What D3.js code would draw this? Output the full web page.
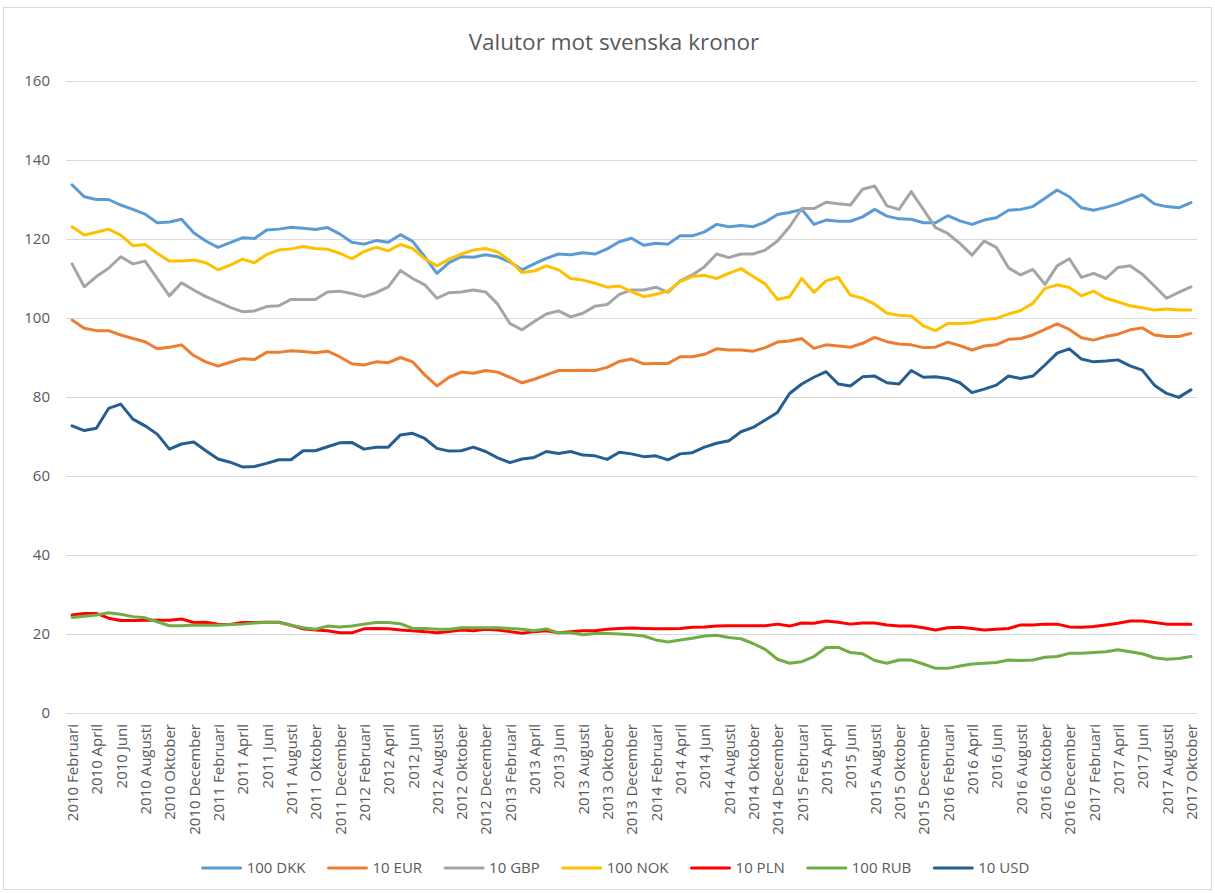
<!DOCTYPE html>
<html>
<head>
<meta charset="utf-8">
<script src="https://cdn.jsdelivr.net/npm/d3@7"></script>
<style>
  html, body { margin: 0; padding: 0; background: #fff; }
  svg { display: block; font-family: "Open Sans", sans-serif; }
</style>
</head>
<body>
<svg id="chart" width="1215" height="893"></svg>
<script>
const title = "Valutor mot svenska kronor";
const monthNames = ["Januari","Februari","Mars","April","Maj","Juni","Juli","Augusti","September","Oktober","November","December"];
const startYear = 2010, startMonth = 1;   // Februari 2010 (0-based month index)
const monthCount = 93;                     // to Oktober 2017
const yTicks = [0, 20, 40, 60, 80, 100, 120, 140, 160];

const seriesNames = ["100 DKK", "10 EUR", "10 GBP", "100 NOK", "10 PLN", "100 RUB", "10 USD"];
const seriesColors = ["#5B9BD5", "#ED7D31", "#A5A5A5", "#FFC000", "#FF0000", "#70AD47", "#255E91"];

const dkk = [133.7,130.7,130.0,130.0,128.6,127.5,126.3,124.1,124.3,125.0,121.6,119.5,117.9,119.1,120.3,120.1,122.3,122.5,123.0,122.7,122.4,122.9,121.3,119.2,
  118.7,119.6,119.2,121.1,119.4,115.5,111.3,114.0,115.5,115.4,116.0,115.5,114.2,112.2,113.7,115.1,116.2,116.0,116.5,116.2,117.5,119.3,
  120.2,118.4,118.9,118.7,120.8,120.8,121.8,123.7,123.1,123.4,123.1,124.3,126.2,126.7,127.5,123.7,124.8,124.5,124.5,125.6,127.5,125.8,
  125.1,125.0,124.1,124.1,125.9,124.6,123.7,124.8,125.4,127.3,127.5,128.2,130.3,132.4,130.7,127.9,127.3,128.0,128.9,130.1,131.2,128.9,128.2,127.9,129.2];
const eur = [99.5,97.4,96.8,96.8,95.7,94.8,94.0,92.2,92.6,93.2,90.5,88.9,87.8,88.8,89.7,89.5,91.3,91.3,91.7,91.5,91.2,91.6,90.2,88.4,
  88.1,88.9,88.7,90.0,88.9,85.6,82.8,85.0,86.3,86.0,86.7,86.3,85.0,83.6,84.5,85.6,86.7,86.7,86.8,86.7,87.5,89.0,
  89.6,88.4,88.5,88.5,90.2,90.2,90.8,92.2,91.9,91.9,91.6,92.5,93.9,94.2,94.8,92.3,93.2,92.9,92.6,93.6,95.1,94.0,
  93.4,93.2,92.5,92.6,93.9,93.0,91.9,92.9,93.2,94.6,94.8,95.7,97.1,98.5,97.1,95.0,94.4,95.3,95.9,97.0,97.5,95.7,95.3,95.3,96.1];
const gbp = [113.7,107.9,110.5,112.6,115.5,113.7,114.4,110.0,105.6,108.9,107.1,105.4,104.1,102.7,101.6,101.8,102.9,103.1,104.7,104.7,104.7,106.6,106.8,106.2,
  105.4,106.4,107.9,112.0,110.0,108.4,105.0,106.4,106.6,107.1,106.6,103.5,98.6,97.0,99.1,101.0,101.8,100.3,101.2,103.0,103.4,106.0,
  107.1,107.1,107.8,106.5,109.4,110.9,113.0,116.2,115.3,116.2,116.2,117.2,119.5,123.1,127.7,127.7,129.3,128.9,128.6,132.6,133.4,128.4,
  127.5,132.0,127.5,122.9,121.4,118.9,115.9,119.5,117.9,112.7,110.9,112.3,108.5,113.2,115.0,110.3,111.3,110.0,112.8,113.2,111.1,108.1,105.0,106.5,107.9];
const nok = [123.1,121.0,121.7,122.5,121.0,118.3,118.6,116.4,114.4,114.4,114.7,114.0,112.2,113.4,114.9,114.0,116.1,117.2,117.5,118.1,117.6,117.4,116.4,115.0,
  116.8,117.9,117.0,118.6,117.6,115.0,113.2,114.9,116.2,117.2,117.6,116.7,114.5,111.5,111.9,113.2,112.2,110.0,109.6,108.8,107.8,108.1,
  106.7,105.4,106.0,106.8,109.2,110.5,110.8,110.0,111.3,112.5,110.5,108.6,104.7,105.4,110.0,106.5,109.4,110.3,105.8,105.0,103.5,101.2,
  100.7,100.5,98.0,96.8,98.6,98.6,98.8,99.6,99.9,101.0,101.9,103.7,107.5,108.4,107.7,105.6,106.8,105.0,104.1,103.1,102.6,102.0,102.3,102.0,102.0];
const pln = [24.8,25.2,25.2,24.0,23.4,23.4,23.5,23.5,23.5,23.8,22.9,23.0,22.5,22.4,22.9,22.9,23.0,23.0,22.2,21.3,21.0,20.8,20.3,20.3,
  21.3,21.4,21.3,21.0,20.8,20.6,20.3,20.6,21.0,20.8,21.2,21.0,20.6,20.2,20.6,20.8,20.3,20.6,20.8,20.8,21.2,21.4,21.5,
  21.4,21.3,21.3,21.4,21.7,21.8,22.0,22.1,22.1,22.1,22.1,22.5,22.0,22.8,22.7,23.3,23.0,22.5,22.8,22.8,22.3,22.0,22.0,21.6,21.0,
  21.6,21.7,21.4,21.0,21.2,21.4,22.3,22.3,22.5,22.5,21.8,21.7,21.9,22.3,22.7,23.3,23.3,22.9,22.5,22.5,22.5];
const rub = [24.2,24.5,24.8,25.4,25.0,24.4,24.1,23.1,22.1,22.1,22.3,22.2,22.2,22.4,22.5,22.8,23.0,22.9,22.2,21.6,21.2,22.0,21.8,22.0,
  22.5,22.9,22.9,22.6,21.4,21.4,21.2,21.2,21.6,21.6,21.6,21.6,21.4,21.2,20.8,21.3,20.3,20.3,19.8,20.1,20.1,20.0,19.8,
  19.5,18.5,18.0,18.5,18.9,19.5,19.7,19.1,18.8,17.6,16.1,13.6,12.6,13.0,14.3,16.6,16.6,15.3,15.0,13.3,12.6,13.4,13.4,12.4,11.3,
  11.3,11.9,12.4,12.6,12.8,13.4,13.3,13.4,14.1,14.3,15.1,15.1,15.3,15.5,16.0,15.5,15.0,14.0,13.6,13.8,14.3];
const usd = [72.7,71.5,72.1,77.1,78.2,74.4,72.7,70.6,66.8,68.1,68.6,66.4,64.3,63.5,62.3,62.4,63.2,64.1,64.1,66.4,66.4,67.4,68.4,68.5,
  66.8,67.3,67.3,70.4,70.8,69.5,67.0,66.3,66.4,67.3,66.2,64.6,63.4,64.3,64.7,66.2,65.7,66.2,65.3,65.1,64.2,66.0,
  65.6,64.9,65.1,64.1,65.6,65.9,67.3,68.3,68.9,71.2,72.3,74.2,76.1,80.9,83.3,85.0,86.4,83.3,82.8,85.1,85.3,83.6,
  83.3,86.7,85.0,85.1,84.7,83.6,81.1,82.0,83.0,85.3,84.7,85.3,88.1,91.1,92.2,89.6,88.9,89.1,89.4,87.9,86.8,83.0,80.9,79.9,81.8];

const seriesValues = [dkk, eur, gbp, nok, pln, rub, usd];

// categories "YYYY Månad"
const categories = [];
for (let k = 0; k < monthCount; k++) {
  const m = startMonth + k;
  categories.push((startYear + Math.floor(m / 12)) + " " + monthNames[m % 12]);
}

const svg = d3.select("#chart");
const W = 1215, H = 893;
const plot = { left: 66, right: 1197, top: 81, bottom: 713 };
const textColor = "#595959";
const gridColor = "#D9D9D9";

// chart border
svg.append("rect").attr("x", 3.5).attr("y", 7.5).attr("width", W - 7).attr("height", H - 11)
  .attr("fill", "#fff").attr("stroke", gridColor).attr("stroke-width", 1);

const x = d3.scalePoint().domain(categories).range([plot.left, plot.right]).padding(0.5);
const y = d3.scaleLinear().domain([0, 160]).range([plot.bottom, plot.top]);

// title
svg.append("text").attr("x", 614).attr("y", 50).attr("text-anchor", "middle")
  .attr("font-size", 22.5).attr("fill", textColor).text(title);

// y axis (gridlines + labels)
const yAxis = d3.axisLeft(y).tickValues(yTicks).tickSize(-(plot.right - plot.left)).tickPadding(16);
const gy = svg.append("g").attr("transform", `translate(${plot.left},0)`).call(yAxis);
gy.select(".domain").remove();
gy.selectAll(".tick line").attr("stroke", gridColor).attr("stroke-width", 1);
gy.selectAll(".tick text").attr("fill", textColor).attr("font-size", 15)
  .attr("font-family", "Open Sans, sans-serif");

// x axis
const xAxis = d3.axisBottom(x).tickSize(0).tickFormat((d, i) => (i % 2 === 0 ? d : ""));
const gx = svg.append("g").attr("transform", `translate(0,${plot.bottom})`).call(xAxis);
gx.select(".domain").attr("stroke", gridColor).attr("d", `M${plot.left},0.5H${plot.right}`);
gx.selectAll(".tick text")
  .attr("font-size", 15).attr("font-family", "Open Sans, sans-serif").attr("fill", textColor)
  .attr("text-anchor", "end")
  .attr("transform", "rotate(-90)")
  .attr("x", -11).attr("y", 0).attr("dy", "0.36em");

// lines
const line = d3.line().x((d, i) => x(categories[i])).y(d => y(d));
const gl = svg.append("g");
seriesValues.forEach((vals, s) => {
  gl.append("path").datum(vals).attr("d", line)
    .attr("fill", "none").attr("stroke", seriesColors[s]).attr("stroke-width", 3)
    .attr("stroke-linejoin", "round").attr("stroke-linecap", "round");
});

// legend
const legY = 868;
const lg = svg.append("g");
const items = seriesNames.map((n, s) => {
  const g = lg.append("g");
  g.append("line").attr("x1", 0).attr("x2", 38).attr("y1", 0).attr("y2", 0)
    .attr("stroke", seriesColors[s]).attr("stroke-width", 3).attr("stroke-linecap", "round");
  const t = g.append("text").attr("x", 44).attr("y", 0).attr("dy", "0.35em")
    .attr("font-size", 15).attr("fill", textColor).text(n);
  return { g, w: 44 + t.node().getComputedTextLength() };
});
const gap = 23;
const totalW = d3.sum(items, d => d.w) + gap * (items.length - 1);
let cx = 616 - totalW / 2;
items.forEach(it => { it.g.attr("transform", `translate(${cx},${legY})`); cx += it.w + gap; });
</script>
</body>
</html>
